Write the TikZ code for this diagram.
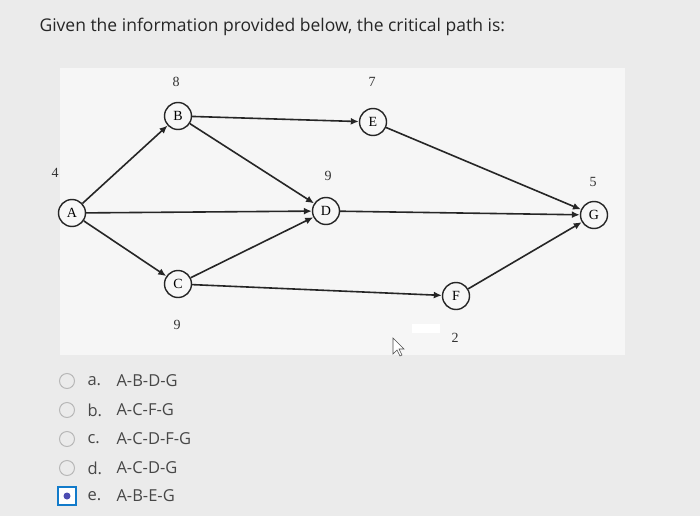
\documentclass[tikz,border=0pt]{standalone}
\usepackage{fontspec}
\usetikzlibrary{arrows.meta}
\setmainfont{Liberation Serif}
\newfontfamily\uisans{Open Sans}
\begin{document}
\begin{tikzpicture}[x=1pt,y=-1pt,
  ev/.style={circle,draw=black!85,line width=1.4pt,minimum size=27pt,inner sep=0pt,font=\fontsize{14}{14}\selectfont,fill=white!94!gray},
  act/.style={-{Latex[length=8pt,width=7pt]},line width=1.6pt,draw=black!85},
  dur/.style={font=\fontsize{14}{14}\selectfont,text=black!80},
  opt/.style={font=\uisans\fontsize{16.5}{16.5}\selectfont,text=black!72,anchor=west},
  radio/.style={circle,draw=black!28,line width=1pt,minimum size=15pt,inner sep=0pt}]
\useasboundingbox (0,0) rectangle (700,516);
\fill[gray!16] (0,0) rectangle (700,516);
\fill[gray!7] (60,68) rectangle (625,355);
\node[anchor=west,font=\uisans\fontsize{17.5}{17.5}\selectfont,text=black!85] (title) at (36,27) {Given the information provided below, the critical path is:};
\node[ev] (A) at (72,213) {A};
\node[ev] (B) at (178,116) {B};
\node[ev] (E) at (373,122) {E};
\node[ev] (D) at (326,211) {D};
\node[ev] (G) at (594,215) {G};
\node[ev] (C) at (178,284) {C};
\node[ev] (F) at (456,296) {F};
\draw[act] (A) -- (B);
\draw[act] (A) -- (D);
\draw[act] (A) -- (C);
\draw[act] (B) -- (E);
\draw[act] (B) -- (D);
\draw[act] (C) -- (D);
\draw[act] (C) -- (F);
\draw[act] (E) -- (G);
\draw[act] (D) -- (G);
\draw[act] (F) -- (G);
\node[dur] (lA) at (55,173) {4};
\node[dur] (lB) at (176,82) {8};
\node[dur] (lE) at (372,82) {7};
\node[dur] (lD) at (328,176) {9};
\node[dur] (lG) at (593,182) {5};
\node[dur] (lC) at (177,325) {9};
\node[dur] (lF) at (455,338) {2};
\fill[white] (412,324) rectangle (440,333);
\draw[black!70,line width=0.6pt,fill=white] (393,338) -- (393,354) -- (397,350) -- (400,356) -- (402,355) -- (399,349) -- (404,349) -- cycle;
\foreach \y/\l/\t [count=\i] in {381/a./A-B-D-G,410/b./A-C-F-G,439/c./A-C-D-F-G,468/d./A-C-D-G}{
  \node[radio] (r\i) at (67,\y) {};
  \node[opt] (l\i) at (84,\y) {\l};
  \node[opt] (t\i) at (113,\y) {\t};
}
\node[draw=cyan!60!blue,line width=2.5pt,minimum size=18pt,inner sep=0pt,fill=white] (r5) at (67,496) {};
\fill[blue!40!gray] (r5.center) circle (3.5pt);
\node[opt] (l5) at (84,496) {e.};
\node[opt] (t5) at (113,496) {A-B-E-G};
\end{tikzpicture}
\end{document}
